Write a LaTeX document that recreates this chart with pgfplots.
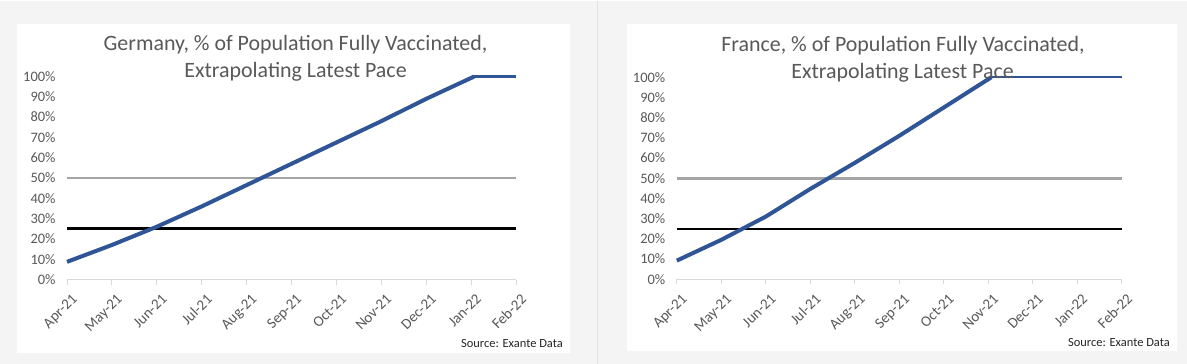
\documentclass[border=0pt]{standalone}
\usepackage{pgfplots}
\pgfplotsset{compat=1.18}
\usepackage{fontspec}
\setmainfont{Carlito}
\definecolor{txt}{HTML}{595959}
\definecolor{bl}{HTML}{2F5597}
\definecolor{gr}{HTML}{A5A5A5}
\definecolor{bg}{HTML}{F4F4F4}
\definecolor{axc}{HTML}{D9D9D9}
\definecolor{sep}{HTML}{E2E2E2}
\pgfplotsset{
 myaxis/.style={
  scale only axis,
  xmin=0,xmax=10,ymin=0,ymax=100,
  axis lines*=left,
  x axis line style={axc, line width=0.9bp},
  y axis line style={draw=none},
  xtick={0,...,10},
  xticklabels={Apr-21,May-21,Jun-21,Jul-21,Aug-21,Sep-21,Oct-21,Nov-21,Dec-21,Jan-22,Feb-22},
  ytick={0,10,...,100},
  yticklabels={0\%,10\%,20\%,30\%,40\%,50\%,60\%,70\%,80\%,90\%,100\%},
  tick align=outside, major tick length=5bp,
  xtick style={axc, line width=0.9bp},
  ytick style={draw=none},
  tick label style={font=\fontsize{14.5}{16}\selectfont, text=txt},
  xticklabel style={font=\fontsize{15}{17}\selectfont, xshift=4bp, yshift=-7bp, rotate=45, anchor=north east, inner sep=1bp},
  yticklabel style={xshift=-3bp},
  clip=false,
 }
}
\begin{document}
\begin{tikzpicture}
\fill[bg] (0,0) rectangle (1187bp,-363bp);
\fill[white] (17bp,-23bp) rectangle (570bp,-352bp);
\fill[white] (627bp,-23bp) rectangle (1177bp,-350bp);
\draw[sep, line width=1bp] (597bp,0) -- (597bp,-363bp);

\begin{axis}[myaxis, at={(67bp,-279bp)}, anchor=south west, width=449bp, height=203bp]
\addplot[gr, line width=2.5bp] coordinates {(0,50)(10,50)};
\addplot[black, line width=2.6bp] coordinates {(0,25)(10,25)};
\addplot[bl, line width=4bp, line join=round] coordinates {(0,8.7)(1,17)(2,26)(3,36)(4,46.5)(5,57)(6,67.5)(7,78)(8,89)(9.07,100)};
\addplot[bl, line width=2.6bp] coordinates {(9.07,100)(10,100)};
\end{axis}

\begin{axis}[myaxis, at={(676.8bp,-278.7bp)}, anchor=south west, width=445bp, height=202bp]
\addplot[gr, line width=3.3bp] coordinates {(0,50)(10,50)};
\addplot[black, line width=1.7bp] coordinates {(0,25)(10,25)};
\addplot[bl, line width=4bp, line join=round] coordinates {(0,9.2)(1,19.5)(2,31)(3,44.7)(4,57.6)(5,71)(6,85)(7.07,100)};
\addplot[bl, line width=2bp] coordinates {(7.07,100)(10,100)};
\end{axis}

\node[font=\fontsize{22}{26}\selectfont, text=txt, anchor=base] at (295.5bp,-50bp) {Germany, \% of Population Fully Vaccinated,};
\node[font=\fontsize{22}{26}\selectfont, text=txt, anchor=base] at (295.5bp,-76.7bp) {Extrapolating Latest Pace};
\node[font=\fontsize{22}{26}\selectfont, text=txt, anchor=base] at (903bp,-50.7bp) {France, \% of Population Fully Vaccinated,};
\node[font=\fontsize{22}{26}\selectfont, text=txt, anchor=base] at (902.5bp,-77.7bp) {Extrapolating Latest Pace};
\node[font=\fontsize{12.5}{14}\selectfont, text=black!85, anchor=base east, inner sep=0pt] at (563bp,-346.7bp) {Source: Exante Data};
\node[font=\fontsize{12.5}{14}\selectfont, text=black!85, anchor=base east, inner sep=0pt] at (1170bp,-345.7bp) {Source: Exante Data};
\end{tikzpicture}
\end{document}
